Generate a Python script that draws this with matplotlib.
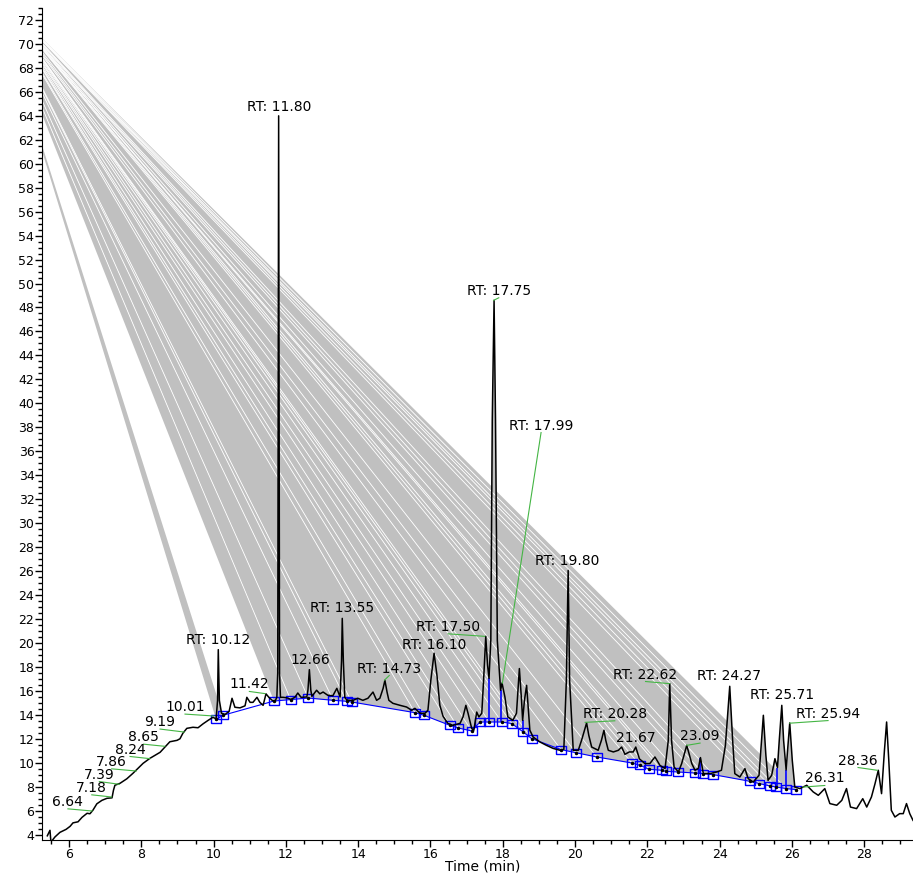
import numpy as np
import matplotlib
matplotlib.use('Agg')
import matplotlib.pyplot as plt
from matplotlib.ticker import MultipleLocator

# chromatogram trace (time in min, intensity)
time_min = [5.40, 5.474, 5.50, 5.61, 5.75, 5.92, 6.03, 6.11, 6.25, 6.36, 6.50, 6.58, 6.66, 6.77,
            6.91, 7.05, 7.19, 7.23, 7.27, 7.41, 7.60, 7.77, 7.91, 8.05, 8.24, 8.38, 8.52, 8.66,
            8.79, 8.99, 9.07, 9.15, 9.26, 9.43, 9.57, 9.71, 9.85, 9.98, 10.07, 10.11, 10.13,
            10.16, 10.22, 10.32, 10.43, 10.51, 10.59, 10.73, 10.87, 10.92, 11.01, 11.09, 11.20,
            11.28, 11.37, 11.45, 11.53, 11.62, 11.70, 11.75, 11.775, 11.79, 11.80, 11.81, 11.825,
            11.85, 11.92, 12.03, 12.14, 12.25, 12.33, 12.42, 12.58, 12.61, 12.65, 12.69, 12.72,
            12.85, 12.94, 13.03, 13.16, 13.30, 13.41, 13.50, 13.54, 13.56, 13.59, 13.63, 13.69,
            13.86, 13.99, 14.13, 14.27, 14.41, 14.51, 14.60, 14.69, 14.74, 14.80, 14.85, 14.96,
            15.16, 15.34, 15.48, 15.57, 15.71, 15.85, 15.93, 16.01, 16.10, 16.18, 16.26, 16.35,
            16.48, 16.62, 16.82, 16.90, 16.98, 17.04, 17.14, 17.20, 17.28, 17.34, 17.42, 17.47,
            17.53, 17.58, 17.62, 17.67, 17.71, 17.76, 17.80, 17.85, 17.94, 17.98, 18.06, 18.14,
            18.28, 18.38, 18.46, 18.52, 18.55, 18.60, 18.66, 18.71, 18.75, 18.84, 19.03, 19.21,
            19.39, 19.58, 19.69, 19.76, 19.81, 19.85, 19.95, 20.09, 20.18, 20.32, 20.38, 20.46,
            20.64, 20.73, 20.80, 20.85, 20.92, 21.06, 21.20, 21.29, 21.38, 21.50, 21.61, 21.68,
            21.78, 21.93, 22.07, 22.21, 22.35, 22.49, 22.58, 22.62, 22.67, 22.74, 22.86, 22.95,
            23.09, 23.23, 23.32, 23.41, 23.47, 23.55, 23.73, 23.92, 24.05, 24.16, 24.28, 24.36,
            24.42, 24.56, 24.70, 24.79, 24.93, 25.09, 25.21, 25.28, 25.34, 25.44, 25.53, 25.60,
            25.65, 25.72, 25.77, 25.84, 25.88, 25.94, 26.01, 26.08, 26.22, 26.41, 26.59, 26.73,
            26.91, 27.05, 27.24, 27.38, 27.51, 27.62, 27.79, 27.96, 28.07, 28.20, 28.30, 28.39,
            28.48, 28.56, 28.62, 28.68, 28.75, 28.85, 28.98, 29.08, 29.17, 29.26, 29.35]
intensity = [3.9, 4.36, 3.37, 3.80, 4.19, 4.44, 4.69, 4.98, 5.07, 5.44, 5.78, 5.74, 6.03, 6.57,
             6.86, 7.03, 7.07, 7.70, 8.12, 8.28, 8.66, 9.12, 9.53, 9.95, 10.37, 10.62, 10.87, 11.33,
             11.75, 11.87, 12.0, 12.46, 12.87, 12.96, 12.92, 13.25, 13.54, 13.79, 13.67, 15.2, 19.44,
             15.2, 14.13, 14.04, 14.29, 15.38, 14.63, 14.58, 14.75, 15.46, 15.04, 15.04, 15.46,
             15.04, 14.79, 15.75, 15.46, 15.21, 15.13, 15.46, 17.5, 45.0, 64.0, 45.0, 17.5,
             15.46, 15.46, 15.42, 15.29, 15.46, 15.82, 15.46, 15.49, 16.05, 17.77, 16.05, 15.54,
             16.05, 15.75, 15.90, 15.63, 15.59, 16.21, 15.49, 18.5, 22.05, 18.5, 15.46, 15.21,
             15.21, 15.38, 15.21, 15.38, 15.90, 15.21, 15.38, 16.21, 16.88, 15.88, 15.21, 14.96,
             14.79, 14.65, 14.38, 14.54, 14.13, 14.13, 14.38, 16.88, 19.14, 17.30, 14.79, 13.87,
             13.29, 13.12, 13.29, 13.82, 14.79, 14.13, 12.87, 12.71, 14.23, 13.82, 14.13, 16.88,
             20.55, 18.13, 17.05, 20.22, 38.6, 48.6, 38.6, 20.2, 16.05, 16.65, 15.49, 13.82,
             13.54, 14.13, 17.86, 15.2, 13.54, 15.2, 16.46, 14.4, 12.71, 12.15, 11.73, 11.45,
             11.20, 11.04, 11.12, 16.88, 26.05, 16.88, 11.04, 11.04, 11.87, 13.32, 12.29, 11.31,
             11.04, 11.87, 12.71, 11.87, 11.04, 10.90, 11.04, 11.31, 10.70, 10.90, 10.90, 11.31,
             10.34, 9.93, 9.93, 10.48, 9.78, 9.51, 11.87, 16.60, 11.87, 9.64, 9.23, 9.93,
             11.45, 9.93, 9.37, 9.53, 10.43, 9.09, 9.09, 9.23, 9.37, 11.45, 16.38, 11.87,
             9.09, 8.81, 9.51, 8.67, 8.39, 8.95, 13.96, 10.62, 8.53, 8.95, 10.34, 9.6,
             11.87, 14.79, 11.87, 9.4, 11.04, 13.32, 10.2, 7.97, 7.84, 8.12, 7.56, 7.28,
             7.84, 6.59, 6.45, 6.86, 7.84, 6.30, 6.17, 7.0, 6.30, 7.14, 8.26, 9.37,
             7.42, 11.04, 13.40, 10.2, 6.03, 5.47, 5.75, 5.75, 6.59, 5.75, 5.19]

# integration baseline points (peak starts / ends)
base_time = [10.07, 10.26, 11.67, 12.13, 12.62, 13.31, 13.68, 13.82, 15.57, 15.82, 16.54, 16.77,
             17.14, 17.37, 17.63, 17.97, 18.25, 18.57, 18.80, 19.61, 20.02, 20.60, 21.57, 21.80,
             22.05, 22.40, 22.51, 22.84, 23.32, 23.55, 23.82, 24.84, 25.10, 25.40, 25.57, 25.85,
             26.11]
base_int = [13.62, 13.96, 15.15, 15.27, 15.40, 15.21, 15.13, 15.07, 14.18, 13.96, 13.12, 12.90,
            12.65, 13.40, 13.40, 13.40, 13.27, 12.56, 12.01, 11.10, 10.84, 10.48, 9.98, 9.78,
            9.45, 9.37, 9.28, 9.23, 9.14, 9.09, 9.01, 8.45, 8.26, 8.06, 7.97, 7.84,
            7.76]

# integrated peaks: start / end index into the baseline points
peak_start = [0, 2, 3, 4, 5, 6, 7, 8, 9, 10, 11, 12, 13, 14, 15, 16, 17, 18, 19, 20, 21, 22,
              23, 24, 25, 26, 27, 28, 29, 30, 31, 32, 33, 34, 35]
peak_end = [1, 3, 4, 5, 6, 7, 8, 9, 10, 11, 12, 13, 14, 15, 16, 17, 18, 19, 20, 21, 22, 23,
            24, 25, 26, 27, 28, 29, 30, 31, 32, 33, 34, 35, 36]

# drop lines between merged peaks
drop_time = [17.62, 17.95, 18.56, 23.47, 25.60, 25.85]
drop_low = [13.40, 13.40, 12.56, 9.09, 7.97, 7.84]
drop_high = [17.05, 16.05, 13.54, 10.43, 9.6, 9.4]

# peak labels: text, labelled point, label anchor
label_text = ['6.64', '7.18', '7.39', '7.86', '8.24', '8.65', '9.19', '10.01', 'RT: 10.12',
              '11.42', 'RT: 11.80', '12.66', 'RT: 13.55', 'RT: 14.73', 'RT: 16.10',
              'RT: 17.50', 'RT: 17.75', 'RT: 17.99', 'RT: 19.80', 'RT: 20.28', '21.67',
              'RT: 22.62', '23.09', 'RT: 24.27', 'RT: 25.71', 'RT: 25.94', '26.31', '28.36']
label_rt = [6.64, 7.18, 7.39, 7.86, 8.24, 8.65, 9.19, 10.01, 10.12, 11.42, 11.80, 12.66, 13.55,
            14.73, 16.10, 17.50, 17.75, 17.99, 19.80, 20.28, 21.67, 22.62, 23.09, 24.27, 25.71,
            25.94, 26.31, 28.36]
label_int = [5.97, 7.14, 8.20, 9.31, 10.34, 11.37, 12.56, 13.90, 19.44, 15.77, 64.0, 17.8, 22.05,
             16.9, 19.1, 20.55, 48.6, 16.65, 26.05, 13.37, 11.3, 16.6, 11.45, 16.4, 14.8,
             13.3, 7.97, 9.37]
label_x = [5.97, 6.63, 6.84, 7.18, 7.69, 8.06, 8.52, 9.21, 10.13, 10.99, 11.82, 12.67, 13.56,
           14.86, 16.10, 16.49, 17.89, 19.06, 19.79, 21.10, 21.68, 21.95, 23.46, 24.27, 25.72,
           27.00, 26.91, 27.83]
label_y = [6.15, 7.32, 8.43, 9.49, 10.52, 11.55, 12.81, 14.06, 19.70, 15.95, 64.17, 17.98, 22.35,
           17.28, 19.23, 20.76, 48.81, 37.56, 26.27, 13.50, 11.50, 16.78, 11.64, 16.65, 15.06,
           13.52, 8.10, 9.60]

# point the shaded peak areas are fanned out from
fill_origin = (3.88, 74.6)

plt.rcParams['font.family'] = ['DejaVu Sans']

fig = plt.figure(figsize=(9.13, 8.73), dpi=100)
ax = fig.add_axes([42 / 913, 33 / 873, 871 / 913, 832 / 873])

t = np.array(time_min)
y = np.array(intensity)
bt = np.array(base_time)
bi = np.array(base_int)

# gray fans + peak areas
gray = '#c0c0c0'
for s, e in zip(peak_start, peak_end):
    ax.fill([fill_origin[0], bt[s], bt[e]], [fill_origin[1], bi[s], bi[e]],
            fc=gray, lw=0, zorder=1)
    inside = (t > bt[s]) & (t < bt[e])
    px = np.concatenate([[bt[s]], t[inside], [bt[e]]])
    py = np.concatenate([[bi[s]], y[inside], [bi[e]]])
    ax.fill(px, py, fc=gray, lw=0, zorder=1)

# thin white seams between neighbouring fans
for k in range(3, len(bt) - 1):
    ax.plot([fill_origin[0], bt[k]], [fill_origin[1], bi[k]], '-', color='white', lw=0.6,
            zorder=1.2)

# baseline
box = [(-1, -0.7), (1, -0.7), (1, 0.7), (-1, 0.7), (-1, -0.7)]
ax.plot(bt, bi, '-', color='blue', lw=0.8, zorder=2)
ax.vlines(drop_time, drop_low, drop_high, color='blue', lw=1.2, zorder=2)
ax.plot(bt, bi, ls='none', marker=box, ms=7.5, mfc='none', mec='blue', mew=1.0, zorder=3)
ax.plot(bt, bi, ls='none', marker='o', ms=1.5, color='black', zorder=3)

# trace
ax.plot(t, y, '-', color='black', lw=1.1, zorder=4)

# labels
for txt, rt, ri, lx, ly in zip(label_text, label_rt, label_int, label_x, label_y):
    if abs(lx - rt) > 0.05:
        ax.plot([lx, rt], [ly, ri], '-', color='#44b544', lw=0.8, zorder=5)
    ax.text(lx, ly, txt, ha='center', va='bottom', fontsize=10, zorder=6)

ax.set_xlim(5.253, 29.35)
ax.set_ylim(3.55, 73.0)
ax.xaxis.set_major_locator(MultipleLocator(2))
ax.xaxis.set_minor_locator(MultipleLocator(0.5))
ax.yaxis.set_major_locator(MultipleLocator(2))
ax.yaxis.set_minor_locator(MultipleLocator(0.5))
ax.tick_params(which='major', direction='out', length=5, width=1, labelsize=9, pad=0.5)
ax.tick_params(which='minor', direction='out', length=3, width=1)
ax.spines['top'].set_visible(False)
ax.spines['right'].set_visible(False)
fig.text(483 / 913, 1 - 870 / 873, 'Time (min)', ha='center', va='baseline', fontsize=10)

fig.savefig('out.png', dpi=100)
